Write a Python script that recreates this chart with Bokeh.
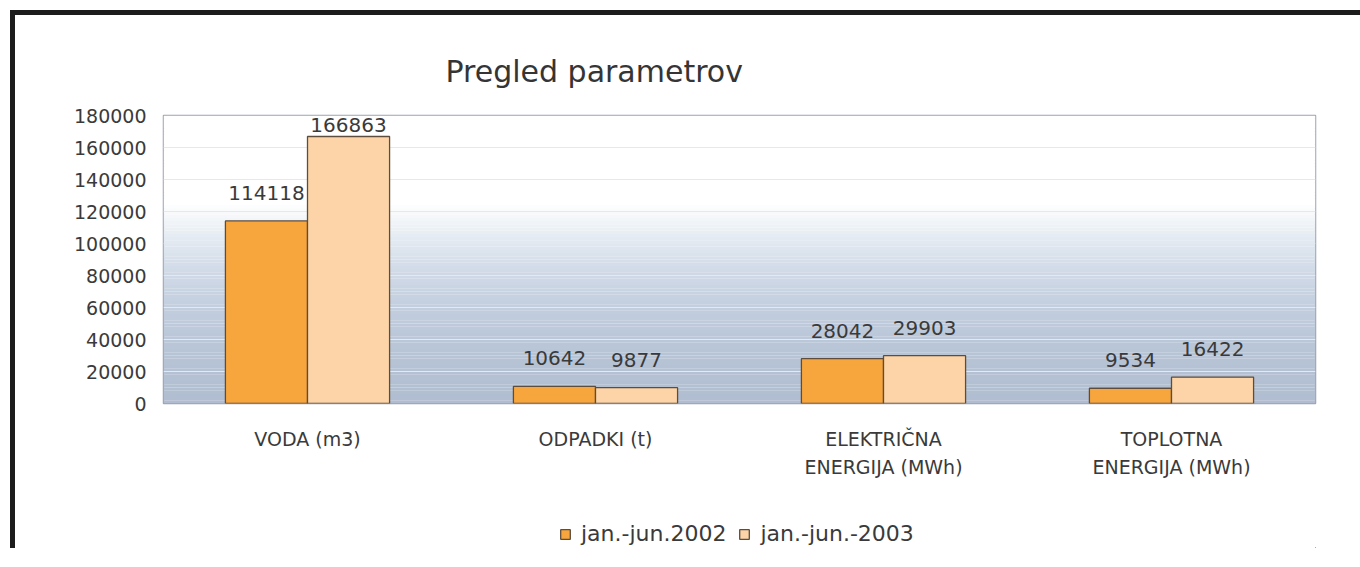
import numpy as np
from bokeh.plotting import figure
from bokeh.layouts import column
from bokeh.models import (FactorRange, Range1d, FixedTicker, ColumnDataSource, Legend,
                          LegendItem, BoxAnnotation, BasicTickFormatter)
from bokeh.transform import dodge
from bokeh.core.properties import value
from bokeh.embed import file_html
from bokeh.resources import INLINE

# ---------------- data ----------------
categories = ["VODA (m3)", "ODPADKI (t)", "ELEKTRIČNA\nENERGIJA (MWh)", "TOPLOTNA\nENERGIJA (MWh)"]
series_names = ["jan.-jun.2002", "jan.-jun.-2003"]
values_2002 = [114118, 10642, 28042, 9534]
values_2003 = [166863, 9877, 29903, 16422]
y_ticks = [0, 20000, 40000, 60000, 80000, 100000, 120000, 140000, 160000, 180000]
title_text = "Pregled parametrov"

FONT = "DejaVu Sans"
TXT = "#3a3a3a"
C2002 = "#f7a63d"
C2003 = "#fcd4a8"
EDGE = "#5e4c3c"

FRAME_W, FRAME_H = 1152, 288
B_LEFT, B_RIGHT, B_TOP, B_BOTTOM = 148, 45, 100, 105
TOTAL_W = B_LEFT + FRAME_W + B_RIGHT
y_max = y_ticks[-1]

# label offsets (screen px above bar top), kept inside the plot frame
px_per_unit = FRAME_H / y_max
def offs(vals):
    return [-min(28.0, (y_max - v) * px_per_unit - 9.0) for v in vals]

src = ColumnDataSource(dict(
    cat=categories,
    v2002=values_2002,
    v2003=values_2003,
    l2002=[str(v) for v in values_2002],
    l2003=[str(v) for v in values_2003],
    o2002=offs(values_2002),
    o2003=offs(values_2003),
))

x_range = FactorRange(*categories, range_padding=0, factor_padding=0)
p = figure(x_range=x_range, y_range=Range1d(0, y_max),
           frame_width=FRAME_W, frame_height=FRAME_H,
           output_backend="svg", toolbar_location=None,
           min_border_left=B_LEFT, min_border_right=B_RIGHT, min_border_top=B_TOP,
           min_border_bottom=B_BOTTOM)
p.background_fill_color = "white"
p.border_fill_color = "white"
p.outline_line_color = "#9aa2b4"
p.outline_line_width = 1.5

# ---- title ----
p.title.text = title_text
p.title.align = "left"
p.title.offset = 282
p.title.standoff = 54
p.title.text_font = FONT
p.title.text_font_size = "30px"
p.title.text_font_style = "normal"
p.title.text_color = "#353535"

# ---- background gradient (style only) ----
stops_v = [0, 30000, 60000, 85000, 105000, 125000, 180000]
stops_c = [(176, 189, 208), (183, 196, 214), (194, 206, 222), (210, 219, 232),
           (230, 236, 243), (255, 255, 255), (255, 255, 255)]
edges = np.linspace(0, y_max, 91)
for b, t in zip(edges[:-1], edges[1:]):
    mid = (b + t) / 2
    rgb = [int(round(np.interp(mid, stops_v, [c[i] for c in stops_c]))) for i in range(3)]
    p.add_layout(BoxAnnotation(bottom=b, top=t, fill_color="#%02x%02x%02x" % tuple(rgb),
                               fill_alpha=1.0, line_alpha=0, level="image"))

# ---- bars ----
bw = 0.285
bar_style = dict(width=bw, source=src, line_color=EDGE, line_width=1.3)
p.vbar(x=dodge("cat", -0.1425, range=x_range), top="v2002", fill_color=C2002, **bar_style)
p.vbar(x=dodge("cat", 0.1425, range=x_range), top="v2003", fill_color=C2003, **bar_style)

# ---- value labels ----
for col, lab, oc, off in (("v2002", "l2002", "o2002", -0.1425), ("v2003", "l2003", "o2003", 0.1425)):
    p.text(x=dodge("cat", off, range=x_range), y=col, text=lab, source=src,
           text_align="center", text_baseline="middle", y_offset=oc,
           text_font=value(FONT), text_font_size="20px", text_color=TXT)

# ---- axes ----
p.yaxis.ticker = FixedTicker(ticks=y_ticks)
p.yaxis.formatter = BasicTickFormatter(use_scientific=False)
p.yaxis.axis_line_color = None
p.yaxis.major_tick_line_color = None
p.yaxis.minor_tick_line_color = None
p.yaxis.major_tick_out = 0
p.yaxis.major_tick_in = 0
p.yaxis.minor_tick_out = 0
p.yaxis.major_label_standoff = 17
p.yaxis.major_label_text_font = FONT
p.yaxis.major_label_text_font_size = "19px"
p.yaxis.major_label_text_color = TXT

p.xaxis.axis_line_color = None
p.xaxis.major_tick_line_color = None
p.xaxis.minor_tick_line_color = None
p.xaxis.major_tick_out = 0
p.xaxis.major_tick_in = 0
p.xaxis.minor_tick_out = 0
p.xaxis.major_label_standoff = 24
p.xaxis.major_label_text_font = FONT
p.xaxis.major_label_text_font_size = "19px"
p.xaxis.major_label_text_color = TXT
p.xaxis.major_label_text_line_height = 1.3
p.xaxis.major_label_orientation = "horizontal"

p.xgrid.visible = False
p.ygrid.grid_line_color = "#e4e8ef"
p.ygrid.grid_line_width = 1.2

# ---- legend strip (separate canvas below the chart; its proxy bars lie outside its view) ----
LEG_H = 40
pl = figure(width=TOTAL_W, height=LEG_H, x_range=x_range,
            y_range=Range1d(2 * y_max, 3 * y_max),
            output_backend="svg", toolbar_location=None,
            x_axis_location=None, y_axis_location=None,
            min_border_left=0, min_border_right=0, min_border_top=0, min_border_bottom=0)
pl.xgrid.visible = False
pl.ygrid.visible = False
pl.outline_line_color = None
pl.background_fill_color = "white"
pl.border_fill_color = "white"
lr1 = pl.vbar(x=dodge("cat", 10, range=x_range), top="v2002", fill_color=C2002, **bar_style)
lr2 = pl.vbar(x=dodge("cat", 10, range=x_range), top="v2003", fill_color=C2003, **bar_style)
legend = Legend(items=[LegendItem(label=series_names[0], renderers=[lr1]),
                       LegendItem(label=series_names[1], renderers=[lr2])],
                location=(396, 2), orientation="horizontal",
                glyph_width=12, glyph_height=12, label_standoff=10, spacing=12,
                padding=0, margin=0, border_line_color=None, background_fill_alpha=0,
                label_text_font=FONT, label_text_font_size="22px", label_text_color=TXT)
pl.add_layout(legend, "center")

layout = column(p, pl, spacing=0)
layout.styles = {"margin-top": "10px", "margin-left": "10px",
                 "border-top": "5px solid #1c1c1c", "border-left": "5px solid #1c1c1c"}

open("out.html", "w").write(file_html(layout, INLINE))
